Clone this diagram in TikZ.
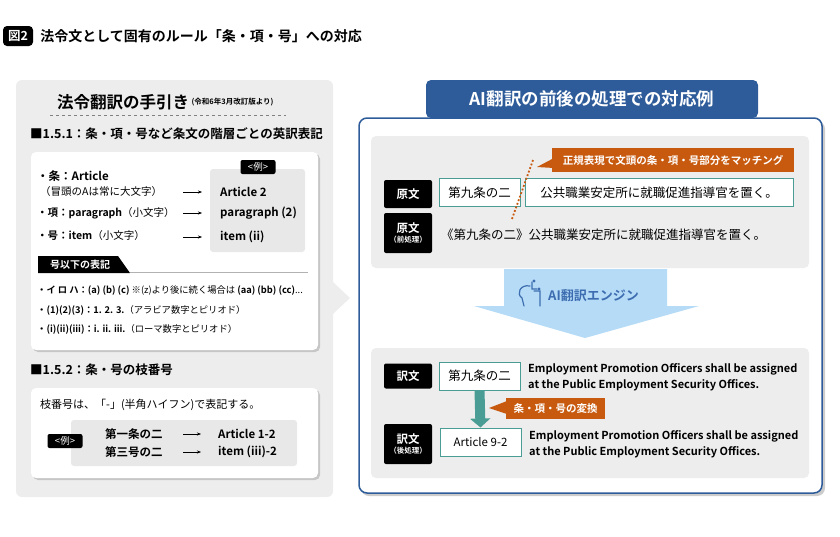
\documentclass[tikz,border=0pt]{standalone}
\usepackage{fontspec}
\setmainfont{Noto Sans CJK JP}[BoldFont={Noto Sans CJK JP Bold}]
\usetikzlibrary{positioning, calc, shapes.geometric, arrows.meta}
\definecolor{panelgray}{HTML}{EDEDED}
\definecolor{exgray}{HTML}{E8E8E8}
\definecolor{teal}{HTML}{4A9D94}
\definecolor{orng}{HTML}{C85A0F}
\definecolor{navy}{HTML}{2E5C9A}
\definecolor{skyblue}{HTML}{B5DBF7}
\definecolor{iconblue}{HTML}{3D6DB0}
\tikzset{
  badge/.style={fill=black, text=white, rounded corners=2pt, font=\bfseries\fontsize{11.5}{12}\selectfont, align=center, minimum width=48pt, inner sep=2pt},
  exbadge/.style={fill=black, text=white, rounded corners=2pt, font=\fontsize{9.5}{10}\selectfont, minimum width=35pt, minimum height=14pt, inner sep=1pt},
  tealbox/.style={draw=teal, line width=1pt, fill=white, minimum height=28pt, font=\fontsize{12.5}{13}\selectfont, inner sep=3pt},
  callout/.style={fill=orng, text=white, font=\bfseries\fontsize{10.5}{11}\selectfont, inner sep=3pt},
  txt/.style={anchor=west, inner sep=0pt, font=\fontsize{10.5}{12}\selectfont},
  btxt/.style={anchor=west, inner sep=0pt, font=\bfseries\fontsize{11.5}{13}\selectfont, align=left},
  arrow/.style={-{Stealth[length=4pt,width=3pt]}, thin},
}
\begin{document}
\begin{tikzpicture}[x=1pt, y=-1pt]
    \useasboundingbox (0,0) rectangle (840,536);
    % title
    \node (fig) [fill=black, text=white, rounded corners=4pt, font=\bfseries\fontsize{12.5}{13}\selectfont, minimum width=30pt, minimum height=20pt, inner sep=0pt] at (18,36) {図2};
    \node (title) [txt, font=\bfseries\fontsize{14}{15}\selectfont, right=7pt of fig] {法令文として固有のルール「条・項・号」への対応};
    % left panel
    \fill[panelgray, rounded corners=6pt] (16,80) rectangle (333,497);
    \fill[panelgray] (333,282) -- (350,298) -- (333,314) -- cycle;
    \node (guide) [anchor=west, inner sep=0pt, font=\bfseries\fontsize{16.5}{17}\selectfont] at (57,102) {法令翻訳の手引き};
    \node (guidesub) [anchor=west, inner sep=0pt, font=\bfseries\fontsize{7.5}{8}\selectfont, right=2pt of guide] {(令和6年3月改訂版より)};
    \draw[dashed, gray] (50,115) -- (286,115);
    \node (sec1) [txt, font=\bfseries\fontsize{12.5}{13}\selectfont] at (30,134) {■1.5.1：条・項・号など条文の階層ごとの英訳表記};
    \fill[gray!45, rounded corners=5pt] (33,154) rectangle (320,352);
    \fill[white, rounded corners=5pt] (31,152) rectangle (318,350);
    \fill[exgray, rounded corners=3pt] (210,169) rectangle (305,252);
    \node (ex1) [exbadge] at (258,167) {<例>};
    \node (jo) [txt, font=\bfseries\fontsize{11.5}{12}\selectfont] at (37,176) {・条：Article};
    \node (jonote) [txt] at (40,192) {（冒頭のAは常に大文字）};
    \node (ko) [txt] at (37,213) {\textbf{・項：paragraph}（小文字）};
    \node (go) [txt] at (37,236) {\textbf{・号：item}（小文字）};
    \node (art2) [btxt] at (220,192) {Article 2};
    \node (para2) [btxt] at (220,213) {paragraph (2)};
    \node (item2) [btxt] at (220,237) {item (ii)};
    \coordinate (a1) at (183,192);
    \coordinate (a2) at (183,213);
    \coordinate (a3) at (183,237);
    \draw [arrow] (a1) -- ([xshift=-18pt]art2.west);
    \draw [arrow] (a2) -- ([xshift=-18pt]para2.west);
    \draw [arrow] (a3) -- ([xshift=-18pt]item2.west);
    \fill[black] (38,256) -- (118,256) -- (130,273) -- (38,273) -- cycle;
    \node (subhead) [anchor=west, text=white, font=\bfseries\fontsize{10}{11}\selectfont, inner sep=0pt] at (50,264.5) {号以下の表記};
    \draw[gray!60, line width=1pt] (130,272.5) -- (308,272.5);
    \node (l1) [txt, font=\fontsize{9.3}{10}\selectfont] at (37,291) {\textbf{・イ ロ ハ：(a) (b) (c)} ※(z)より後に続く場合は \textbf{(aa) (bb) (cc)}...};
    \node (l2) [txt, font=\fontsize{9.3}{10}\selectfont] at (37,310) {\textbf{・(1)(2)(3)：1. 2. 3.}（アラビア数字とピリオド）};
    \node (l3) [txt, font=\fontsize{9.3}{10}\selectfont] at (37,329) {\textbf{・(i)(ii)(iii)：i. ii. iii.}（ローマ数字とピリオド）};
    \node (sec2) [txt, font=\bfseries\fontsize{12.5}{13}\selectfont] at (30,370) {■1.5.2：条・号の枝番号};
    \fill[gray!45, rounded corners=5pt] (33,390) rectangle (320,480);
    \fill[white, rounded corners=5pt] (31,388) rectangle (318,478);
    \node (eda) [txt, font=\fontsize{11}{12}\selectfont] at (40,405) {枝番号は、「-」(半角ハイフン)で表記する。};
    \fill[exgray, rounded corners=3pt] (71,420) rectangle (297,466);
    \node (ex2) [exbadge] at (65,441) {<例>};
    \node (dai1) [btxt] at (105,434) {第一条の二};
    \node (dai3) [btxt] at (105,452) {第三号の二};
    \node (art12) [btxt] at (218,434) {Article 1-2};
    \node (item32) [btxt] at (218,452) {item (iii)-2};
    \draw [arrow] ([xshift=-35pt]art12.west) -- ([xshift=-17pt]art12.west);
    \draw [arrow] ([xshift=-35pt]item32.west) -- ([xshift=-17pt]item32.west);
    % right panel
    \fill[gray!40, rounded corners=8pt] (361,121) rectangle (825,496);
    \draw[navy, line width=1.5pt, fill=white, rounded corners=8pt] (359,118) rectangle (822,493);
    \node (rtitle) [fill=navy, text=white, rounded corners=5pt, font=\bfseries\fontsize{17.5}{18}\selectfont, minimum width=332pt, minimum height=38pt] at (592,99) {AI翻訳の前後の処理での対応例};
    \fill[panelgray, rounded corners=5pt] (371,136) rectangle (809,268);
    \node (match) [callout, minimum width=242pt, minimum height=24pt] at (673,160) {正規表現で文頭の条・項・号部分をマッチング};
    \fill[orng] (554,158) -- (537,167) -- (554,168) -- cycle;
    \node (gen) [badge, minimum height=28pt] at (408,194) {原文};
    \node (jobox) [tealbox, minimum width=81pt] at (479.5,192.5) {第九条の二};
    \node (restbox) [tealbox, minimum width=268pt] at (659,192.5) {公共職業安定所に就職促進指導官を置く。};
    \draw[orng, line width=1.8pt, dotted] (533,160) -- (512,219);
    \node (genpre) [badge, minimum height=40pt] at (408,233) {原文\\[-2pt]{\fontsize{7.5}{8}\selectfont（前処理）}};
    \node (pretext) [txt, font=\fontsize{12.5}{13}\selectfont] at (441,235) {《第九条の二》公共職業安定所に就職促進指導官を置く。};
    % engine arrow
    \fill[skyblue] (504,269) rectangle (667,306) (474,306) -- (699,306) -- (585,338) -- cycle;
    \node (engine) [anchor=west, inner sep=0pt, text=iconblue, font=\bfseries\fontsize{13}{14}\selectfont] at (548,296) {AI翻訳エンジン};
    \draw[iconblue, line width=1.2pt, line cap=round] (530,286) .. controls (520,284) and (516,294) .. (522,298) -- (524,306) (534,291) -- (540,291) -- (540,306) (532,282) -- (532,289) -- (537,289);
    \fill[iconblue] (534,281) circle (1.6pt) (539,289) circle (1.6pt);
    % bottom box
    \fill[panelgray, rounded corners=5pt] (371,348) rectangle (809,478);
    \node (yaku) [badge, minimum height=25pt] at (408,376) {訳文};
    \node (jobox2) [tealbox, minimum width=81pt] at (479.5,376) {第九条の二};
    \node (en1) [btxt, font=\bfseries\fontsize{11}{16}\selectfont] at (528,377) {Employment Promotion Officers shall be assigned\\at the Public Employment Security Offices.};
    \node (yakupost) [badge, minimum height=40pt] at (408,444) {訳文\\[-2pt]{\fontsize{7.5}{8}\selectfont（後処理）}};
    \node (artbox) [tealbox, minimum width=81pt, font=\fontsize{11.5}{12}\selectfont] at (480.5,442) {Article 9-2};
    \node (en2) [btxt, font=\bfseries\fontsize{11}{16}\selectfont] at (529,444) {Employment Promotion Officers shall be assigned\\at the Public Employment Security Offices.};
    \draw[teal, line width=10pt, -{Triangle[length=9pt,width=20pt]}] (jobox2.south) -- (artbox.north);
    \node (conv) [callout, minimum width=99pt, minimum height=21pt] at (555.5,408.5) {条・項・号の変換};
    \fill[orng] (507,401) -- (489,408) -- (507,414) -- cycle;
\end{tikzpicture}
\end{document}
